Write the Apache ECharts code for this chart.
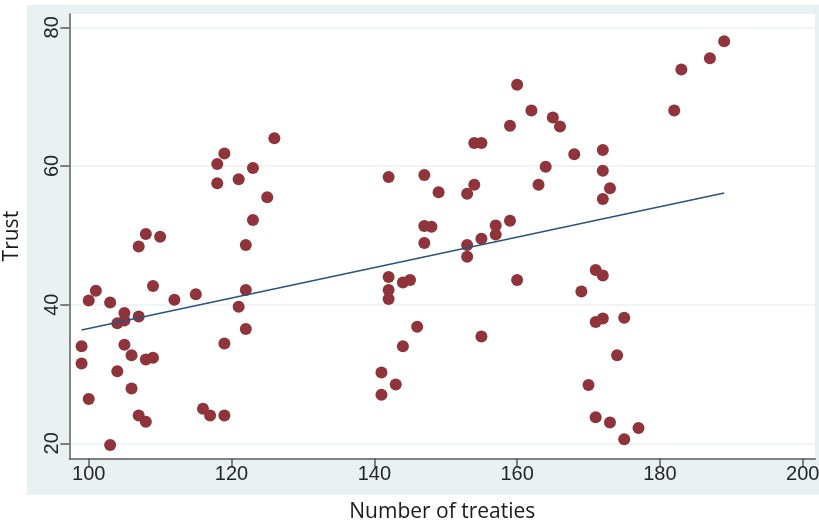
<!DOCTYPE html>
<html>
<head>
<meta charset="utf-8">
<script src="https://cdn.jsdelivr.net/npm/echarts@6/dist/echarts.min.js"></script>
<style>
  html, body { margin: 0; padding: 0; background: #ffffff; }
  #chart { width: 819px; height: 523px; }
</style>
</head>
<body>
<div id="chart"></div>
<script>
// Number of treaties (x) against Trust (y), one point per observation
const treaties = [
  126, 119, 118, 123, 118, 121, 125, 123, 108, 110, 107, 122,
  109, 101, 100, 103, 112, 115, 122, 121, 105, 107, 105, 104, 122,
  99, 105, 119, 99, 106, 108, 109, 104, 106, 100, 116, 117, 119, 107, 108, 103,
  160, 162, 165, 166, 159, 154, 155, 142, 147, 164, 163, 154, 149, 153,
  147, 148, 159, 157, 157, 155, 147, 153, 153,
  142, 144, 145, 160, 142, 142, 146, 155, 144, 141, 143, 141,
  189, 187, 183, 182, 168, 172, 172, 173, 172,
  171, 172, 169, 172, 171, 175, 174, 170, 171, 173, 177, 175
];
const trust = [
  64.0, 61.8, 60.3, 59.7, 57.5, 58.1, 55.5, 52.2, 50.2, 49.8, 48.4, 48.6,
  42.7, 42.0, 40.6, 40.3, 40.7, 41.5, 42.1, 39.7, 38.8, 38.3, 37.7, 37.3, 36.5,
  34.0, 34.2, 34.4, 31.5, 32.7, 32.1, 32.35, 30.4, 27.9, 26.4, 25.0, 24.0, 24.0, 24.0, 23.1, 19.75,
  71.7, 68.0, 67.0, 65.7, 65.8, 63.3, 63.3, 58.4, 58.7, 59.9, 57.3, 57.3, 56.2, 56.0,
  51.35, 51.25, 52.1, 51.4, 50.1, 49.5, 48.9, 48.6, 46.9,
  44.0, 43.2, 43.55, 43.55, 42.1, 40.8, 36.8, 35.4, 34.0, 30.2, 28.5, 27.0,
  78.0, 75.55, 73.9, 68.0, 61.7, 62.3, 59.3, 56.8, 55.25,
  45.0, 44.2, 41.9, 38.0, 37.5, 38.1, 32.7, 28.4, 23.75, 23.0, 22.2, 20.6
];

// Fitted linear trend, end points
const fitX = [99, 189];
const fitY = [36.35, 56.1];

// Axis tick labels
const xTicks = [100, 120, 140, 160, 180, 200];
const yTicks = [20, 40, 60, 80];

const points = treaties.map((t, i) => [t, trust[i]]);
const fitLine = fitX.map((x, i) => [x, fitY[i]]);

const chart = echarts.init(document.getElementById('chart'), null, { renderer: 'canvas' });

const axisGrey = '#5b5b5b';
const tickFont = '"Liberation Sans", Arial, sans-serif';
const titleFont = '"Open Sans", "Noto Sans", sans-serif';

chart.setOption({
  animation: false,
  backgroundColor: '#ffffff',
  graphic: [
    {
      type: 'rect',
      z: -10,
      silent: true,
      shape: { x: 27, y: 5, width: 792, height: 490 },
      style: { fill: '#eaf1f3' }
    },
    {
      type: 'rect',
      z: -9,
      silent: true,
      shape: { x: 69, y: 14, width: 746, height: 445 },
      style: { fill: '#ffffff' }
    }
  ],
  grid: { left: 69.3, top: 14, right: 3.7, bottom: 64.7, containLabel: false, outerBoundsMode: 'none' },
  xAxis: {
    type: 'value',
    min: 97.28,
    max: 201.76,
    name: 'Number of treaties',
    nameLocation: 'middle',
    nameGap: 43,
    nameTextStyle: { fontFamily: titleFont, fontSize: 21, color: '#1a1a1a', verticalAlign: 'top' },
    axisLine: { show: true, onZero: false, lineStyle: { color: axisGrey, width: 1.5 } },
    axisTick: { show: true, length: 9, customValues: xTicks, lineStyle: { color: axisGrey, width: 1.5 } },
    axisLabel: { customValues: xTicks, margin: 6, fontFamily: tickFont, fontSize: 20, color: '#262626' },
    splitLine: { show: false }
  },
  yAxis: {
    type: 'value',
    min: 17.84,
    max: 81.92,
    name: 'Trust',
    nameLocation: 'middle',
    nameRotate: 90,
    nameGap: 47,
    nameTextStyle: { fontFamily: titleFont, fontSize: 21, color: '#1a1a1a' },
    axisLine: { show: true, onZero: false, lineStyle: { color: axisGrey, width: 1.5 } },
    axisTick: { show: true, length: 9, customValues: yTicks, lineStyle: { color: axisGrey, width: 1.5 } },
    axisLabel: { customValues: yTicks, rotate: 90, margin: 7, fontFamily: tickFont, fontSize: 20, color: '#262626' },
    splitLine: { show: true, lineStyle: { color: '#eaf1f3', width: 1.5 } }
  },
  series: [
    {
      type: 'scatter',
      data: points,
      symbol: 'circle',
      symbolSize: 12,
      itemStyle: { color: '#8f343a', opacity: 1 },
      z: 3
    },
    {
      type: 'line',
      data: fitLine,
      showSymbol: false,
      symbol: 'none',
      lineStyle: { color: '#2a5480', width: 1.6 },
      z: 4
    }
  ]
});
</script>
</body>
</html>
